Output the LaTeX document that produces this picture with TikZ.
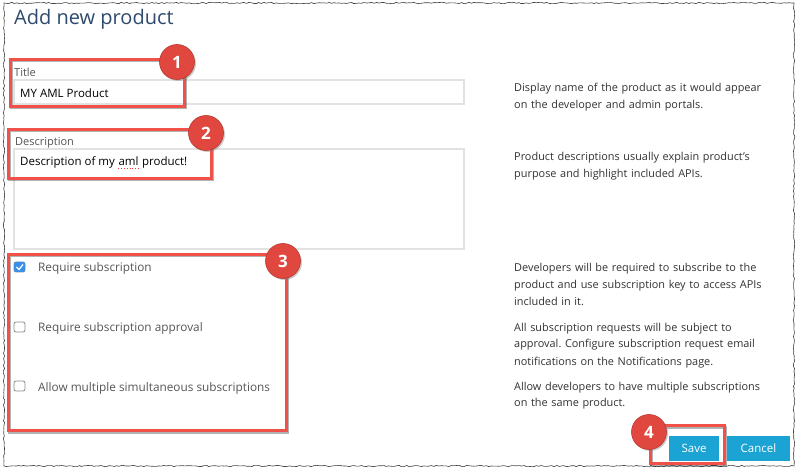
\documentclass[tikz,border=0pt]{standalone}
\usepackage{fontspec}
\setmainfont{Open Sans}
\frenchspacing
\usetikzlibrary{
  positioning,
  shadows,
  decorations.pathmorphing
}
\definecolor{markred}{HTML}{F0524A}
\definecolor{badgered}{HTML}{E0483F}
\definecolor{badgeedge}{HTML}{B9372F}
\definecolor{headblue}{HTML}{2E4A6C}
\definecolor{fieldgray}{HTML}{E2E2E2}
\definecolor{labelgray}{HTML}{555555}
\definecolor{hintgray}{HTML}{333333}
\definecolor{buttonblue}{HTML}{1BA3D3}
\definecolor{checkblue}{HTML}{3A8FE6}
\newcommand{\uisize}[1]{\fontsize{#1}{17}\selectfont}
\tikzset{
  torn edge/.style={
    draw=black!75, line width=.6pt,
    decorate, decoration={random steps, segment length=2.5pt, amplitude=.7pt}
  },
  field/.style={draw=fieldgray, line width=1.5pt},
  label text/.style={anchor=base west, inner sep=0pt, text=labelgray, font=\uisize{11}},
  option text/.style={anchor=base west, inner sep=0pt, text=labelgray, font=\uisize{11.8}},
  value text/.style={anchor=base west, inner sep=0pt, text=black, font=\uisize{11.5}},
  hint/.style={anchor=base west, inner sep=0pt, text=hintgray, font=\uisize{10.9},
    text width=285pt, align=left},
  checkbox/.style={draw=black!45, line width=.8pt, rounded corners=2pt},
  button/.style={fill=buttonblue, text=white, minimum height=25pt, inner sep=0pt,
    font=\uisize{11.5}},
  mark box/.style={
    draw=markred, line width=3pt,
    preaction={draw=black, opacity=.3, line width=3pt,
      transform canvas={shift={(1.2pt,-1.5pt)}}}
  },
  badge/.style={
    circle, fill=badgered, draw=badgeedge, line width=.6pt,
    minimum size=35pt, inner sep=0pt, text=white,
    font=\fontsize{17}{17}\selectfont\bfseries,
    drop shadow={shadow xshift=1.5pt, shadow yshift=-1.5pt, opacity=.4}
  },
  spell/.style={draw=red!80, line width=.8pt, dotted}
}
\begin{document}
\begin{tikzpicture}[x=1pt,y=-1pt]
\pgfmathsetseed{7}
\useasboundingbox (0,0) rectangle (798,470);
\fill[white] (0,0) rectangle (798,470);
\draw[torn edge] (4,3) rectangle (794,466);
% heading
\node[anchor=base west, inner sep=0pt, text=headblue, font=\fontsize{20}{20}\selectfont]
  (heading) at (14,25) {Add new product};
% title field
\node[label text] (titleLabel) at (14,77) {Title};
\draw[field] (14,80) rectangle (464,104);
\node[value text] (titleValue) at (20,98) {MY AML Product};
% description field
\node[label text] (descLabel) at (15,146) {Description};
\draw[field] (14,149) rectangle (464,249);
\node[value text] (descA) at (20,166) {Description of my};
\node[value text] (descB) at ([xshift=3.2pt]descA.base east) {aml};
\node[value text] (descC) at ([xshift=3.2pt]descB.base east) {product!};
\draw[spell] ([yshift=-2pt]descB.base west) -- ([yshift=-2pt]descB.base east);
% check boxes
\foreach \y/\name/\txt in {%
  262/subReq/Require subscription,
  322/subApproval/Require subscription approval,
  381/subMulti/Allow multiple simultaneous subscriptions%
} {
  \draw[checkbox] (14,\y) rectangle ++(11,10);
  \node[option text] (\name) at (38,\y+10) {\txt};
}
\fill[checkblue, rounded corners=2pt] (14,262) rectangle ++(11,10);
\draw[white, line width=1.3pt] (16.5,267) -- (19,269.5) -- (23,264.5);
% hints on the right
\node[hint] (hintTitle) at (514,92)
  {Display name of the product as it would appear\\on the developer and admin portals.};
\node[hint] (hintDesc) at (514,161)
  {Product descriptions usually explain product's\\purpose and highlight included APIs.};
\node[hint] (hintSub) at (514,272)
  {Developers will be required to subscribe to the\\product and use subscription key to access APIs\\included in it.};
\node[hint] (hintApproval) at (514,331)
  {All subscription requests will be subject to\\approval. Configure subscription request email\\notifications on the Notifications page.};
\node[hint] (hintMulti) at (514,390)
  {Allow developers to have multiple subscriptions\\on the same product.};
% buttons
\node[button, minimum width=50pt] (save) at (694,448.5) {Save};
\node[button, minimum width=63pt] (cancel) at (758.5,448.5) {Cancel};
% callouts
\foreach \a/\b in {%
  {10.5,59.5}/{184.5,106.5},
  {8.5,129.5}/{211.5,178.5},
  {8.5,254.5}/{286.5,430.5},
  {650.5,425.5}/{724.5,463.5}%
} {
  \draw[mark box] (\a) rectangle (\b);
}
\foreach \n/\pos in {1/{(177,62)}, 2/{(206,133)}, 3/{(283,261)}, 4/{(649,432)}} {
  \node[badge] (badge\n) at \pos {\n};
}
\end{tikzpicture}
\end{document}
